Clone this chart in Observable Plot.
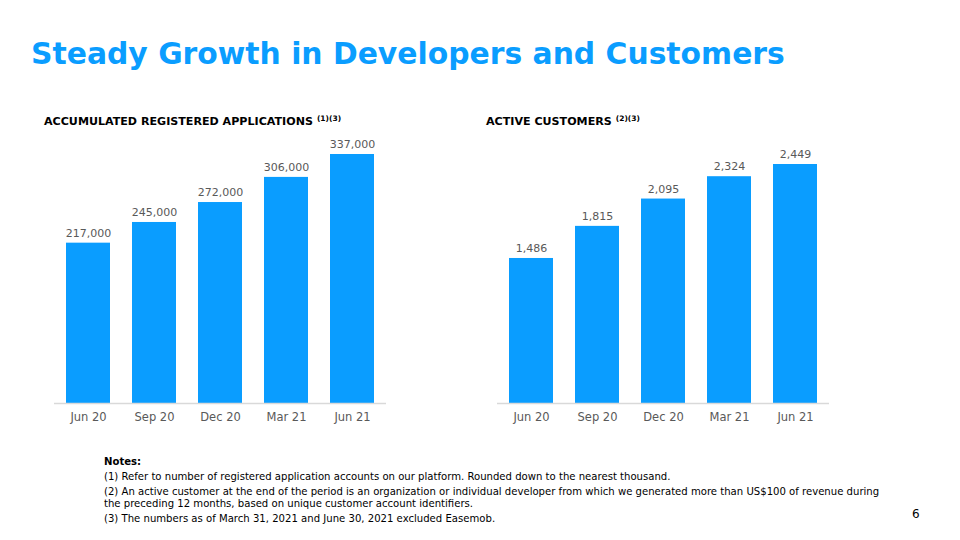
<!DOCTYPE html>
<html><head><meta charset="utf-8">
<script src="https://cdn.jsdelivr.net/npm/d3@7"></script>
<script src="https://cdn.jsdelivr.net/npm/@observablehq/plot@0.6"></script>
<style>
body{margin:0;background:#fff;}
#page{position:relative;width:960px;height:540px;overflow:hidden;font-family:"DejaVu Sans",Verdana,sans-serif;}
.abs{position:absolute;white-space:nowrap;}
#title{left:31px;top:34px;font-size:29.8px;font-weight:bold;color:#0A9DFF;line-height:40px;}
.sub{font-size:11.1px;font-weight:bold;color:#000;line-height:14px;}
.sub sup{font-size:7.5px;vertical-align:4px;margin-left:4px;}
#notes{left:104px;top:456px;font-family:"DejaVu Sans",Verdana,sans-serif;font-size:10.1px;color:#000;line-height:12px;white-space:normal;width:785px;}
#notes div{margin-bottom:3px;}
#pg{left:912px;top:507px;font-size:12px;color:#000;}
</style></head>
<body><div id="page">
<div id="title" class="abs">Steady Growth in Developers and Customers</div>
<div class="abs sub" style="left:44px;top:112px;">ACCUMULATED REGISTERED APPLICATIONS<sup>(1)(3)</sup></div>
<div class="abs sub" style="left:486px;top:112px;">ACTIVE CUSTOMERS<sup>(2)(3)</sup></div>
<div id="c1" class="abs" style="left:54px;top:130px;"></div>
<div id="c2" class="abs" style="left:497px;top:130px;"></div>
<div id="notes" class="abs">
<div style="font-weight:bold;">Notes:</div>
<div>(1) Refer to number of registered application accounts on our platform. Rounded down to the nearest thousand.</div>
<div>(2) An active customer at the end of the period is an organization or individual developer from which we generated more than US$100 of revenue during the preceding 12 months, based on unique customer account identifiers.</div>
<div>(3) The numbers as of March 31, 2021 and June 30, 2021 excluded Easemob.</div>
</div>
<div id="pg" class="abs">6</div>
</div>
<script>
const periods = ["Jun 20","Sep 20","Dec 20","Mar 21","Jun 21"];
const applications = [217000,245000,272000,306000,337000];
const customers = [1486,1815,2095,2324,2449];

const barColor = "#0A9DFF";
const fmt = d3.format(",");

function chart(values, marginTop){
  const data = periods.map((p,i)=>({period:p, value:values[i]}));
  return Plot.plot({
    width: 332, height: 300,
    marginLeft: 0, marginRight: 0, marginTop, marginBottom: 27,
    style: {fontFamily: '"DejaVu Sans", Verdana, sans-serif', fontSize: "11px", color: "#595959", background: "transparent"},
    x: {domain: periods, paddingInner: 0.33, paddingOuter: 0.165, label: null},
    y: {domain: [0, d3.max(values)], axis: null},
    marks: [
      Plot.barY(data, {x: "period", y: "value", fill: barColor}),
      Plot.ruleY([0], {stroke: "#D9D9D9", strokeWidth: 1.5}),
      Plot.text(data, {x: "period", y: "value", text: d => fmt(d.value), dy: -10, fill: "#595959", fontSize: 11}),
      Plot.axisX({tickSize: 0, tickPadding: 9, fontSize: 11.5, fill: "#595959"})
    ]
  });
}
document.getElementById("c1").appendChild(chart(applications, 24));
document.getElementById("c2").appendChild(chart(customers, 34));
</script>
</body></html>
